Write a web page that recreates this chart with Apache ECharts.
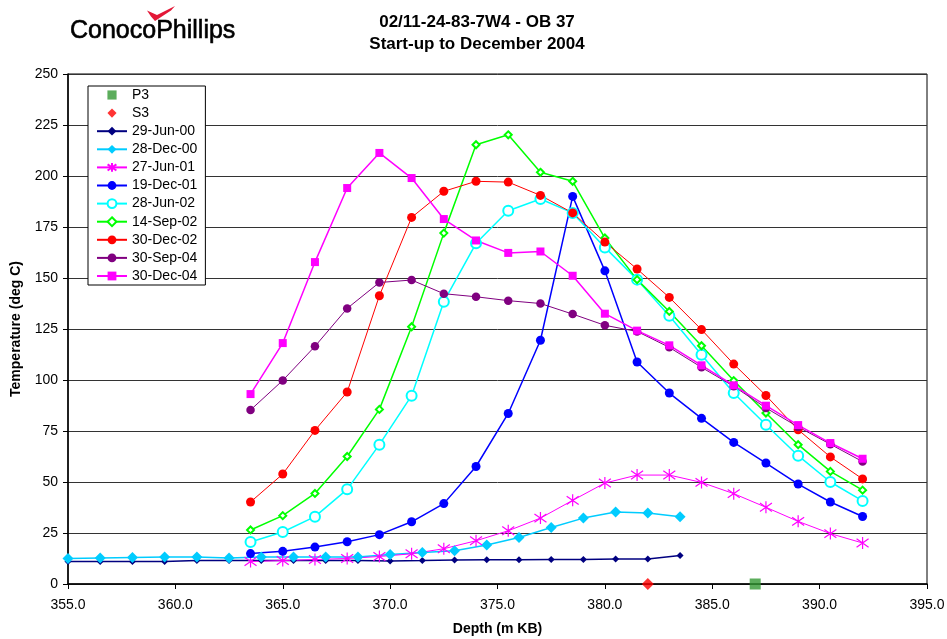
<!DOCTYPE html>
<html>
<head>
<meta charset="utf-8">
<script src="https://cdn.jsdelivr.net/npm/echarts@6/dist/echarts.min.js"></script>
<style>
html,body{margin:0;padding:0;background:#fff;}
#chart{width:947px;height:639px;}
</style>
</head>
<body>
<div id="chart"></div>
<script>
// ---- data ----
const titleLines = ['02/11-24-83-7W4 - OB 37', 'Start-up to December 2004'];
const xTicks = { min: 355, max: 395, step: 5 };
const yTicks = { min: 0, max: 250, step: 25 };

const depthEarly = [355, 356.5, 358, 359.5, 361, 362.5, 364, 365.5, 367, 368.5, 370, 371.5, 373, 374.5, 376, 377.5, 379, 380.5, 382, 383.5];
const depthLate = [363.5, 365, 366.5, 368, 369.5, 371, 372.5, 374, 375.5, 377, 378.5, 380, 381.5, 383, 384.5, 386, 387.5, 389, 390.5, 392];

const p3 = [[387, 0]];
const s3 = [[382, 0]];
const jun00 = [11, 11, 11, 11, 11.5, 11.5, 11.5, 11.5, 11.5, 11.5, 11.3, 11.5, 11.8, 11.9, 11.9, 12, 12, 12.2, 12.2, 14];
const dec00 = [12.5, 12.8, 13, 13.2, 13.2, 12.8, 13.2, 13.2, 13.2, 13.2, 14.5, 15.5, 16.3, 19.1, 22.8, 27.7, 32.3, 35.3, 34.8, 33];
const jun01 = [11, 11.5, 12, 12.5, 13.5, 14.8, 17.3, 21.2, 26.1, 32.3, 41, 49.5, 53.4, 53.4, 49.8, 44.3, 37.6, 30.7, 24.7, 20.1];
const dec01 = [14.9, 16, 18.1, 20.7, 24.2, 30.5, 39.4, 57.6, 83.6, 119.5, 190, 153.5, 108.8, 93.6, 81.2, 69.4, 59.3, 49, 40.2, 33.1];
const jun02 = [20.6, 25.5, 33, 46.4, 68.3, 92.3, 138.4, 167, 183, 188.7, 181.9, 165, 149.2, 131.5, 112.4, 93.6, 78.1, 62.9, 50, 40.7];
const sep02 = [26.5, 33.5, 44.4, 62.5, 85.6, 126.1, 172, 215.3, 220.2, 201.8, 197.4, 169.6, 149.2, 133.6, 116.8, 99.7, 83.8, 68.3, 55.2, 46];
const dec02 = [40.2, 53.9, 75.3, 94.1, 141.3, 179.7, 192.5, 197.4, 197, 190.5, 181.9, 167.6, 154.4, 140.5, 124.7, 107.8, 92.4, 75.6, 62.3, 51.5];
const sep04 = [85.3, 99.8, 116.5, 135.1, 147.8, 149, 142.3, 140.8, 138.9, 137.5, 132.3, 126.8, 123.8, 116, 106.2, 96.9, 86.3, 77, 68.5, 60];
const dec04 = [93.1, 118.1, 157.8, 194.1, 211.3, 199, 178.9, 168.4, 162.3, 163, 151.1, 132.5, 124.2, 117, 107.2, 97.4, 87.4, 77.9, 69.1, 61.4];

// ---- chart ----
const FONT = '"Liberation Sans", Arial, Helvetica, sans-serif';
const ASTERISK = 'path://M5,0L5,10M1.5,1.5L8.5,8.5M8.5,1.5L1.5,8.5';
const LEG_SQUARE = 'path://M-1,-1L-1,-1M11,11L11,11M0,0L10,0L10,10L0,10Z';
const LEG_DIAMOND = 'path://M-1,-1L-1,-1M11,11L11,11M5,0L10,5L5,10L0,5Z';

function pair(xs, ys) { return xs.map((x, i) => [x, ys[i]]); }

function lineSeries(name, xs, ys, color, symbol, size, lw, opts) {
  opts = opts || {};
  return {
    name: name,
    type: 'line',
    data: pair(xs, ys),
    symbol: symbol,
    symbolSize: size,
    showAllSymbol: true,
    clip: false,
    lineStyle: { color: color, width: lw },
    itemStyle: Object.assign({ color: color }, opts.item || {}),
    emphasis: { disabled: true },
    z: 2
  };
}

const series = [
  { name: 'P3', type: 'scatter', data: p3, symbol: 'rect', symbolSize: 11, clip: false,
    itemStyle: { color: '#339933' }, z: 2 },
  { name: 'S3', type: 'scatter', data: s3, symbol: 'diamond', symbolSize: 12, clip: false,
    itemStyle: { color: '#FF0000' }, z: 2 },
  lineSeries('29-Jun-00', depthEarly, jun00, '#000080', 'diamond', 7, 1.5),
  lineSeries('28-Dec-00', depthEarly, dec00, '#00CCFF', 'diamond', 11, 1.5),
  lineSeries('27-Jun-01', depthLate, jun01, '#FF00FF', ASTERISK, 12, 1,
    { item: { borderColor: '#FF00FF', borderWidth: 1.2 } }),
  lineSeries('19-Dec-01', depthLate, dec01, '#0000FF', 'circle', 9, 1.5),
  lineSeries('28-Jun-02', depthLate, jun02, '#00FFFF', 'emptyCircle', 10, 1.5,
    { item: { borderWidth: 1.5 } }),
  lineSeries('14-Sep-02', depthLate, sep02, '#00FF00', 'emptyDiamond', 7, 1.5,
    { item: { borderWidth: 1.3 } }),
  lineSeries('30-Dec-02', depthLate, dec02, '#FF0000', 'circle', 9, 1),
  lineSeries('30-Sep-04', depthLate, sep04, '#800080', 'circle', 8.5, 1),
  lineSeries('30-Dec-04', depthLate, dec04, '#FF00FF', 'rect', 8, 1.5)
];

const legendData = series.map(s => {
  if (s.name === 'P3') return { name: s.name, icon: LEG_SQUARE };
  if (s.name === 'S3') return { name: s.name, icon: LEG_DIAMOND };
  return { name: s.name };
});

const chart = echarts.init(document.getElementById('chart'), null, { renderer: 'canvas' });
chart.setOption({
  animation: false,
  backgroundColor: '#fff',
  textStyle: { fontFamily: FONT, color: '#000' },
  grid: { left: 68, right: 20, top: 74, bottom: 55, show: true, borderColor: '#000', borderWidth: 1,
    backgroundColor: 'transparent', containLabel: false, outerBoundsMode: 'none' },
  legend: {
    orient: 'vertical', left: 88, top: 86,
    padding: [2, 8, 2, 8],
    itemWidth: 30, itemHeight: 11, itemGap: 4.1,
    symbolKeepAspect: true,
    borderColor: '#000', borderWidth: 1, borderRadius: 0, backgroundColor: '#fff',
    textStyle: { fontSize: 14, color: '#000', fontFamily: FONT },
    data: legendData,
    z: 10
  },
  xAxis: {
    type: 'value', min: xTicks.min, max: xTicks.max, interval: xTicks.step,
    name: 'Depth (m KB)', nameLocation: 'middle', nameGap: 38,
    nameTextStyle: { fontSize: 14, fontWeight: 'bold', color: '#000', fontFamily: FONT },
    axisLine: { show: true, onZero: false, lineStyle: { color: '#000', width: 1.5 } },
    axisTick: { show: true, length: 5, inside: false, lineStyle: { color: '#000' } },
    axisLabel: { fontSize: 14, color: '#000', margin: 14, fontFamily: FONT, formatter: v => v.toFixed(1) },
    splitLine: { show: false }
  },
  yAxis: {
    type: 'value', min: yTicks.min, max: yTicks.max, interval: yTicks.step,
    name: 'Temperature (deg C)', nameLocation: 'middle', nameGap: 45,
    nameTextStyle: { fontSize: 14, fontWeight: 'bold', color: '#000', fontFamily: FONT },
    axisLine: { show: true, onZero: false, lineStyle: { color: '#000', width: 1.5 } },
    axisTick: { show: true, length: 5, inside: false, lineStyle: { color: '#000' } },
    axisLabel: { fontSize: 14, color: '#000', margin: 10, fontFamily: FONT },
    splitLine: { show: true, lineStyle: { color: '#333', width: 1 } }
  },
  graphic: [
    { type: 'text', x: 477, y: 11, z: 10,
      style: { text: titleLines.join('\n'), textAlign: 'center', fill: '#000',
        font: 'bold 17px ' + FONT, lineHeight: 22 } },
    { type: 'text', x: 70, y: 31.5, z: 10,
      style: { text: 'ConocoPhillips', textAlign: 'left', verticalAlign: 'middle', fill: '#000',
        stroke: '#000', lineWidth: 0.6, font: '25px ' + FONT } },
    { type: 'polygon', z: 10,
      shape: { points: [[147, 10.5], [157, 15], [175, 6], [171, 10.5], [155, 21], [151, 16.5]] },
      style: { fill: '#E31837' } }
  ],
  series: series
});
</script>
</body>
</html>
